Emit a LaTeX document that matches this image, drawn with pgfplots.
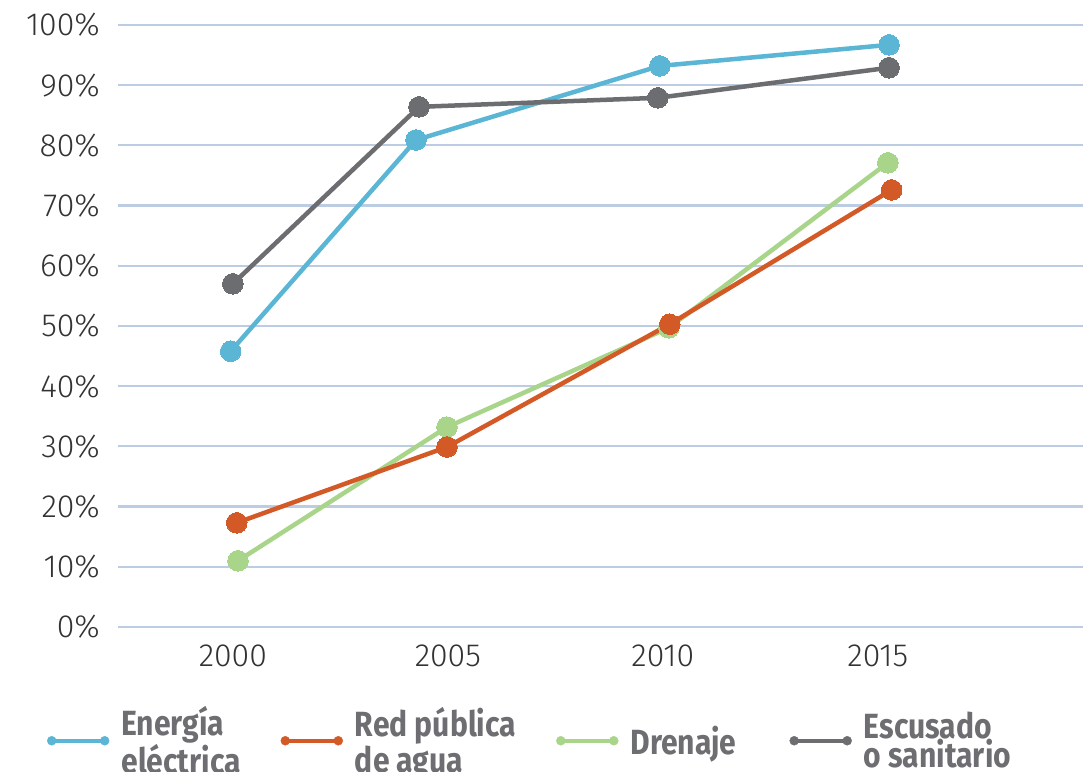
\documentclass[border=0pt]{standalone}
\usepackage{fontspec}
\setmainfont{Fira Sans}[UprightFont=* Light, BoldFont=* Bold]
\usepackage{pgfplots}
\pgfplotsset{compat=1.18}
\definecolor{cEn}{HTML}{5BB5D5}
\definecolor{cRed}{HTML}{D35A27}
\definecolor{cDr}{HTML}{A9D58A}
\definecolor{cEs}{HTML}{6C6D70}
\definecolor{cGrid}{HTML}{BCCDE3}
\definecolor{cTxt}{HTML}{333333}
\definecolor{cLeg}{HTML}{6D6E71}
\begin{document}
\begin{tikzpicture}
\begin{axis}[
  scale only axis, width=965bp, height=602bp,
  xmin=1997.33, xmax=2019.77, ymin=0, ymax=100,
  axis line style={draw=none},
  xtick={2000,2005,2010,2015},
  xticklabels={2000,2005,2010,2015},
  ytick={0,10,20,30,40,50,60,70,80,90,100},
  yticklabels={0\%,10\%,20\%,30\%,40\%,50\%,60\%,70\%,80\%,90\%,100\%},
  major tick length=0pt,
  ymajorgrids, grid style={cGrid, line width=2.2bp},
  tick label style={font=\fontsize{32bp}{36bp}\selectfont, text=cTxt, inner sep=0pt},
  yticklabel style={xshift=-18bp},
  xticklabel style={yshift=-18bp},
  clip=false,
  legend image code/.code={
    \draw[#1, mark=none, line width=4bp] (4bp,0bp) -- (57bp,0bp);
    \fill[#1, mark=none] (4bp,0bp) circle (4.5bp);
    \fill[#1, mark=none] (57bp,0bp) circle (4.5bp);
  },
  legend columns=4,
  legend style={at={(rel axis cs:-0.0736,-0.189)}, anchor=west, draw=none, fill=none,
    inner sep=0pt, outer sep=0pt,
    font=\bfseries\addfontfeature{FakeStretch=0.86}\fontsize{35bp}{29bp}\selectfont,
    text=cLeg,
    cells={align=left, anchor=west},
    /tikz/every odd column/.append style={column sep=10bp},
    /tikz/every even column/.append style={column sep=38bp}},
]
\addlegendimage{color=cEn}
\addlegendentry{Energía\\eléctrica}
\addlegendimage{color=cRed}
\addlegendentry{Red pública\\de agua}
\addlegendimage{color=cDr}
\addlegendentry{Drenaje\hspace{13bp}}
\addlegendimage{color=cEs}
\addlegendentry{Escusado\\o sanitario}

\addplot[forget plot, color=cDr, line width=4.5bp, mark=*, mark size=10.3bp, mark options={line width=0pt}]
 coordinates {(2000.12,11.0) (2004.98,33.2) (2010.14,49.7) (2015.23,77.1)};
\addplot[forget plot, color=cRed, line width=4.5bp, mark=*, mark size=10.3bp, mark options={line width=0pt}]
 coordinates {(2000.09,17.3) (2004.98,29.9) (2010.16,50.3) (2015.32,72.6)};
\addplot[forget plot, color=cEn, line width=4.5bp, mark=*, mark size=10.3bp, mark options={line width=0pt}]
 coordinates {(1999.95,45.8) (2004.26,80.9) (2009.93,93.2) (2015.26,96.7)};
\addplot[forget plot, color=cEs, line width=4.5bp, mark=*, mark size=10.3bp, mark options={line width=0pt}]
 coordinates {(2000.00,57.0) (2004.33,86.4) (2009.88,87.9) (2015.26,92.9)};

\coordinate (bbSW) at (rel axis cs:-0.1223,-0.2409);
\coordinate (bbNE) at (rel axis cs:1,1.0415);
\end{axis}
\pgfresetboundingbox
\path (bbSW) rectangle (bbNE);
\end{tikzpicture}
\end{document}
